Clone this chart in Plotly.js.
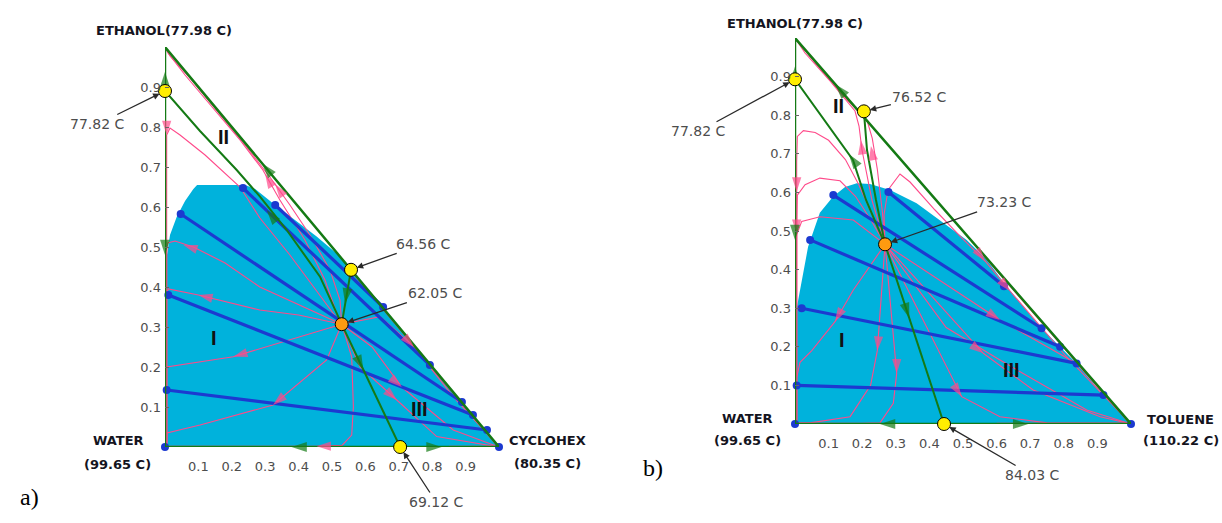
<!DOCTYPE html>
<html><head><meta charset="utf-8">
<script src="https://cdn.plot.ly/plotly-3.0.1.min.js"></script>
<style>html,body{margin:0;padding:0;background:#fff}#chart{width:1222px;height:523px}</style>
</head><body><div id="chart"></div>
<script>
// ---------- shared axis ticks ----------
const tickVals = [0.1,0.2,0.3,0.4,0.5,0.6,0.7,0.8,0.9];
const tickText = ['0.1','0.2','0.3','0.4','0.5','0.6','0.7','0.8','0.9'];
const triangle = [[0,0],[0,1],[1,0],[0,0]];

// ---------- panel a: ethanol / water / cyclohexane ----------
const aLabels = ['ETHANOL(77.98 C)','WATER','(99.65 C)','CYCLOHEX','(80.35 C)'];
const aBinodal = [[0,0],[0,0.40],[0.006,0.48],[0.015,0.53],[0.035,0.575],[0.06,0.615],[0.085,0.645],[0.096,0.655],[0.24,0.655],[0.27,0.645],[0.324,0.609],[0.39,0.567],[0.454,0.526],[0.514,0.484],[0.546,0.454],[1,0],[0,0]];
const aTieLines = [[0.33,0.605,0.653,0.35],[0.2335,0.6475,0.793,0.205],[0.047,0.5825,0.889,0.1125],[0.01,0.38,0.922,0.08],[0.005,0.1425,0.964,0.0425]];
const aCornerDots = [[0,0],[1,0]];
const aAzeoX = [0,0.557,0.704];
const aAzeoY = [0.89,0.443,0];
const aAzeoText = ['77.82 C','64.56 C','69.12 C'];
const aTernX = [0.529];
const aTernY = [0.307];
const aTernText = ['62.05 C'];
const aBoundaries = [
  [[0,0.89],[0.1048,0.79],[0.2147,0.6925],[0.2844,0.6258],[0.3644,0.5425],[0.4641,0.4258],[0.529,0.307]],
  [[0.557,0.443],[0.529,0.307]],
  [[0.529,0.307],[0.704,0]]
];
const aResidue = [
  [[0.529,0.307],[0.518,0.325],[0.479,0.4175],[0.419,0.5175],[0.344,0.6175],[0.293,0.6925],[0.2245,0.7675],[0.135,0.855],[0.06,0.93],[0.009,0.985],[0,1]],
  [[0.529,0.307],[0.524,0.3675],[0.494,0.4425],[0.434,0.53],[0.374,0.605],[0.314,0.675],[0.2395,0.755],[0.15,0.8475],[0.075,0.9225],[0.015,0.9775],[0,1]],
  [[0.529,0.307],[0.514,0.3225],[0.374,0.48],[0.284,0.5725],[0.2245,0.65],[0.12,0.73],[0.045,0.78],[0.015,0.7975],[0.005,0.78],[0.005,0.6925],[0.005,0.4925],[0.005,0]],
  [[0.529,0.307],[0.40,0.355],[0.284,0.40],[0.18,0.46],[0.085,0.50],[0.03,0.515],[0.008,0.51],[0.005,0.49],[0.005,0]],
  [[0.529,0.307],[0.40,0.33],[0.284,0.3425],[0.10,0.38],[0.01,0.395],[0.005,0.385],[0.005,0]],
  [[0.529,0.307],[0.374,0.2675],[0.2045,0.2258],[0.005,0.20],[0.005,0]],
  [[0.529,0.307],[0.484,0.2175],[0.3234,0.105],[0.105,0.055],[0.006,0.035],[0.005,0]],
  [[0.529,0.307],[0.559,0.225],[0.564,0.1],[0.559,0.03],[0.53,0.004],[0.45,0.002],[0,0.002]],
  [[0.529,0.307],[0.644,0.326],[0.745,0.25],[0.863,0.126],[1,0]],
  [[0.529,0.307],[0.62,0.25],[0.709,0.15],[0.863,0.0425],[1,0]],
  [[0.529,0.307],[0.584,0.2],[0.694,0.1175],[0.8135,0.026],[1,0]],
  [[0.56,0.437],[0.995,0.002]],
  [[0.85,0.002],[1,0.002]]
];
const aGreenArrows = [[0,0.938,0,0.02],[0,0.48,0,-0.02],[0.291,0.709,-0.02,0.02],[0.3045,0.5925,-0.02,0.0208],[0.539,0.359,-0.004,-0.02],[0.594,0.1925,0.0114,-0.02],[0.379,0,-0.02,0],[0.828,0,0.02,0]];
const aPinkArrows = [[0.005,0.78,0,-0.02],[0.055,0.505,-0.02,0.0055],[0.10,0.38,-0.02,0.004],[0.2045,0.2258,-0.02,-0.005],[0.3234,0.105,-0.02,-0.014],[0.454,0.002,-0.02,0],[0.30,0.682,-0.0136,0.02],[0.33,0.657,-0.017,0.02],[0.745,0.25,0.02,-0.018],[0.709,0.15,0.02,-0.014],[0.694,0.1175,0.02,-0.015]];
const aRoman = ['II','I','III'];
const aRomanX = [0.174,0.148,0.763];
const aRomanY = [0.776,0.272,0.094];

// ---------- panel b: ethanol / water / toluene ----------
const bLabels = ['ETHANOL(77.98 C)','WATER','(99.65 C)','TOLUENE','(110.22 C)'];
const bBinodal = [[0,0],[0,0.27],[0.005,0.30],[0.02,0.373],[0.039,0.459],[0.074,0.547],[0.113,0.589],[0.149,0.614],[0.184,0.624],[0.223,0.622],[0.283,0.606],[0.362,0.572],[0.432,0.528],[0.511,0.477],[0.571,0.425],[0.630,0.356],[0.734,0.248],[0.789,0.2],[0.838,0.157],[0.918,0.075],[1,0],[0,0]];
const bTieLines = [[0.114,0.593,0.734,0.248],[0.278,0.601,0.622,0.357],[0.045,0.477,0.789,0.2],[0.02,0.30,0.838,0.157],[0.005,0.10,0.918,0.075]];
const bCornerDots = [[0,0],[1,0]];
const bAzeoX = [0,0.205,0.4435];
const bAzeoY = [0.893,0.81,0];
const bAzeoText = ['77.82 C','76.52 C','84.03 C'];
const bTernX = [0.268];
const bTernY = [0.4655];
const bTernText = ['73.23 C'];
const bBoundaries = [
  [[0,0.893],[0.1726,0.684],[0.2113,0.5803],[0.268,0.4655]],
  [[0.205,0.81],[0.2143,0.7098],[0.241,0.5803],[0.268,0.4655]],
  [[0.268,0.4655],[0.4435,0]]
];
const bResidue = [
  [[0.268,0.4655],[0.229,0.5803],[0.1994,0.7098],[0.1905,0.772],[0.1786,0.8109],[0.1042,0.8886],[0.0298,0.9611],[0,1]],
  [[0.268,0.4655],[0.26,0.55],[0.245,0.66],[0.23,0.74],[0.215,0.785],[0.15,0.845],[0.07,0.925],[0.015,0.982],[0,1]],
  [[0.268,0.4655],[0.225,0.55],[0.19,0.62],[0.15,0.685],[0.10,0.735],[0.06,0.755],[0.025,0.76],[0.007,0.745],[0.005,0.68],[0.005,0]],
  [[0.268,0.4655],[0.225,0.53],[0.18,0.59],[0.134,0.63],[0.074,0.637],[0.03,0.62],[0.007,0.593],[0.005,0.5],[0.005,0]],
  [[0.268,0.4655],[0.1736,0.5285],[0.0744,0.537],[0.02,0.525],[0.005,0.49],[0.005,0]],
  [[0.268,0.4655],[0.1736,0.347],[0.119,0.265],[0.05,0.19],[0.015,0.16],[0.005,0.12],[0.005,0]],
  [[0.268,0.4655],[0.255,0.30],[0.245,0.19],[0.225,0.1],[0.164,0.019],[0.045,0.003],[0,0.003]],
  [[0.268,0.4655],[0.29,0.25],[0.3027,0.1313],[0.2926,0.0536],[0.253,0.003],[0.2,0.002],[0,0.002]],
  [[0.268,0.4655],[0.2649,0.5415],[0.2768,0.6062],[0.3125,0.6477],[0.3423,0.6269],[0.4167,0.5544],[0.4911,0.487],[0.5655,0.4223],[0.6399,0.3446],[0.8086,0.1736],[1,0]],
  [[0.268,0.4655],[0.61,0.2694],[0.838,0.157],[1,0]],
  [[0.268,0.4655],[0.5604,0.1832],[0.709,0.088],[0.908,0.019],[1,0]],
  [[0.268,0.4655],[0.4961,0.0707],[0.61,0.0189],[0.75,0.003],[1,0.002]],
  [[0.268,0.4655],[0.45,0.25],[0.61,0.1658],[0.868,0.036],[1,0]],
  [[0.56,0.437],[0.995,0.002]],
  [[0.6,0.002],[1,0.002]]
];
const bGreenArrows = [[0,0.926,0,0.02],[0,0.4767,0,-0.02],[0.12,0.88,-0.02,0.02],[0.16,0.6993,-0.0165,0.02],[0.34,0.2745,0.0075,-0.02],[0.253,0,-0.02,0],[0.694,0,0.02,0]];
const bPinkArrows = [[0.005,0.602,0,-0.02],[0.005,0.493,0,-0.02],[0.119,0.265,-0.013,-0.02],[0.245,0.19,-0.002,-0.02],[0.3027,0.1313,0,-0.02],[0.5655,0.4223,0.018,-0.02],[0.6399,0.3446,0.02,-0.02],[0.61,0.2694,0.02,-0.0115],[0.5604,0.1832,0.02,-0.0128],[0.4961,0.0707,0.015,-0.02],[0.196,0.735,-0.003,0.02],[0.226,0.72,-0.004,0.02]];
const bRoman = ['II','I','III'];
const bRomanX = [0.129,0.139,0.645];
const bRomanY = [0.8246,0.2176,0.14];

// ---------- styles ----------
const FILL = '#00b2dc';
const PINK = '#ff4a8a';
const GREEN = '#147a14';
const TIE = '#1c3ad0';
const LABEL = '#4d4d4d';

function xs(p){return p.map(q=>q[0]);}
function ys(p){return p.map(q=>q[1]);}
function base(xa,ya){return {type:'scatter',xaxis:xa,yaxis:ya,hoverinfo:'skip',cliponaxis:false,showlegend:false};}

function arrowTrace(list,xa,ya,color,size){
  const X=[],Y=[],S=[];
  list.forEach(a=>{X.push(a[0]-a[2],a[0]);Y.push(a[1]-a[3],a[1]);S.push(0,size);});
  return Object.assign(base(xa,ya),{mode:'markers',x:X,y:Y,marker:{symbol:'arrow',size:S,color:color,angleref:'previous',line:{width:0}}});
}

function panelTraces(binodal,ties,corners,bounds,residue,gArr,pArr,azX,azY,tX,tY,xa,ya){
  const T=[];
  T.push(Object.assign(base(xa,ya),{mode:'lines',x:xs(binodal),y:ys(binodal),fill:'toself',fillcolor:FILL,line:{width:0,color:'rgba(0,0,0,0)'}}));
  residue.forEach(c=>T.push(Object.assign(base(xa,ya),{mode:'lines',x:xs(c),y:ys(c),line:{color:PINK,width:1.1}})));
  ties.forEach(t=>T.push(Object.assign(base(xa,ya),{mode:'lines+markers',x:[t[0],t[2]],y:[t[1],t[3]],line:{color:TIE,width:3.2},marker:{color:TIE,size:8}})));
  T.push(Object.assign(base(xa,ya),{mode:'markers',x:xs(corners),y:ys(corners),marker:{color:TIE,size:8,symbol:'circle'}}));
  T.push(Object.assign(base(xa,ya),{mode:'lines',x:xs(triangle),y:ys(triangle),line:{color:GREEN,width:2.5}}));
  bounds.forEach(b=>T.push(Object.assign(base(xa,ya),{mode:'lines',x:xs(b),y:ys(b),line:{color:GREEN,width:2}})));
  T.push(arrowTrace(pArr,xa,ya,PINK,15));
  T.push(arrowTrace(gArr,xa,ya,GREEN,16));
  T.push(Object.assign(base(xa,ya),{mode:'markers',x:azX,y:azY,marker:{color:'#ffee00',size:13,line:{color:'#000',width:1}}}));
  T.push(Object.assign(base(xa,ya),{mode:'markers',x:tX,y:tY,marker:{color:'#ff9a10',size:13,line:{color:'#000',width:1}}}));
  return T;
}

const traces = [].concat(
  panelTraces(aBinodal,aTieLines,aCornerDots,aBoundaries,aResidue,aGreenArrows,aPinkArrows,aAzeoX,aAzeoY,aTernX,aTernY,'x','y'),
  panelTraces(bBinodal,bTieLines,bCornerDots,bBoundaries,bResidue,bGreenArrows,bPinkArrows,bAzeoX,bAzeoY,bTernX,bTernY,'x2','y2')
);

function axisX(domain,anchor){
  return {domain:domain,range:[0,1],anchor:anchor,showgrid:false,zeroline:false,showline:false,tickmode:'array',tickvals:tickVals,ticktext:tickText,ticks:'',ticklabelstandoff:10,tickfont:{family:'DejaVu Sans',size:13,color:LABEL},fixedrange:true};
}
function axisY(domain,anchor){
  return {domain:domain,range:[0,1],anchor:anchor,showgrid:false,zeroline:false,showline:false,tickmode:'array',tickvals:tickVals,ticktext:tickText,ticks:'inside',ticklen:4,tickcolor:'#666',tickwidth:1,ticklabelstandoff:3,tickfont:{family:'DejaVu Sans',size:13,color:LABEL},fixedrange:true};
}

const ann = [];
function vlabel(text,xr,yr,x,y,dx,dy){
  ann.push({xref:xr,yref:yr,x:x,y:y,xshift:dx,yshift:dy,text:'<b>'+text+'</b>',showarrow:false,font:{family:'DejaVu Sans',size:13,color:'#14141e'},xanchor:'center',yanchor:'middle'});
}
// panel a vertex labels
vlabel(aLabels[0],'x','y',0,1,-1,17);
vlabel(aLabels[1],'x','y',0,0,-46,7);
vlabel(aLabels[2],'x','y',0,0,-47,-17);
vlabel(aLabels[3],'x','y',1,0,48,7);
vlabel(aLabels[4],'x','y',1,0,48,-16);
// panel b vertex labels
vlabel(bLabels[0],'x2','y2',0,1,0,15);
vlabel(bLabels[1],'x2','y2',0,0,-47,6);
vlabel(bLabels[2],'x2','y2',0,0,-47,-16);
vlabel(bLabels[3],'x2','y2',1,0,50,5);
vlabel(bLabels[4],'x2','y2',1,0,50,-16);

function callout(xr,yr,x,y,text,ax,ay){
  ann.push({xref:xr,yref:yr,x:x,y:y,text:text,showarrow:true,ax:ax,ay:ay,arrowhead:2,arrowsize:1,arrowwidth:1.3,arrowcolor:'#2a2a2a',standoff:6,font:{family:'DejaVu Sans',size:14,color:LABEL}});
}
const aOff = [[-67,33],[72,-26],[36,55]];
aAzeoText.forEach((t,i)=>callout('x','y',aAzeoX[i],aAzeoY[i],t,aOff[i][0],aOff[i][1]));
callout('x','y',aTernX[0],aTernY[0],aTernText[0],94,-31);
const bOff = [[-96,52],[56,-14],[88,51]];
bAzeoText.forEach((t,i)=>callout('x2','y2',bAzeoX[i],bAzeoY[i],t,bOff[i][0],bOff[i][1]));
callout('x2','y2',bTernX[0],bTernY[0],bTernText[0],119,-42);

function roman(list,X,Y,xr,yr){
  list.forEach((t,i)=>ann.push({xref:xr,yref:yr,x:X[i],y:Y[i],text:'<b>'+t+'</b>',showarrow:false,font:{family:'Liberation Sans',size:20,color:'#111'}}));
}
roman(aRoman,aRomanX,aRomanY,'x','y');
roman(bRoman,bRomanX,bRomanY,'x2','y2');

ann.push({xref:'paper',yref:'paper',x:18/1222,y:11/523,text:'a)',showarrow:false,font:{family:'Liberation Serif',size:24,color:'#000'}});
ann.push({xref:'paper',yref:'paper',x:653/1222,y:40/523,text:'b)',showarrow:false,font:{family:'Liberation Serif',size:24,color:'#000'}});

const layout = {
  width:1222,height:523,margin:{l:0,r:0,t:0,b:0},
  paper_bgcolor:'#ffffff',plot_bgcolor:'rgba(0,0,0,0)',showlegend:false,
  font:{family:'DejaVu Sans',size:13,color:LABEL},
  xaxis:axisX([0.13502,0.40835],'y'),
  yaxis:axisY([0.14532,0.91013],'x'),
  xaxis2:axisX([0.65057,0.92553],'y2'),
  yaxis2:axisY([0.18929,0.92734],'x2'),
  annotations:ann
};
Plotly.newPlot('chart',traces,layout,{staticPlot:true,displayModeBar:false});
</script>
</body></html>
